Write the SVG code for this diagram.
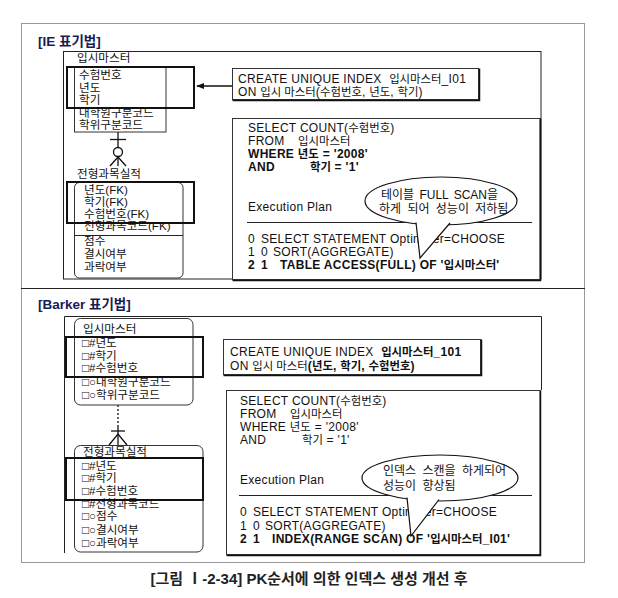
<svg xmlns="http://www.w3.org/2000/svg" width="618" height="598" viewBox="0 0 618 598">
<defs>
<style>
text{font-family:"Liberation Sans","Noto Sans CJK KR",sans-serif;font-size:12px;fill:#111}
.sq{letter-spacing:0.3px}
.k{font-size:11.4px;letter-spacing:0}
.e{font-size:11.6px}
.t{font-size:13.5px;font-weight:bold;fill:#1a1a55}
.cap{font-size:15px;font-weight:bold;fill:#222}
.bt{font-size:12px}
.b{font-weight:bold}
.thin{fill:none;stroke:#222;stroke-width:1}
.ent{fill:#fff;stroke:#333;stroke-width:1}
.pk{fill:none;stroke:#111;stroke-width:2}
.box{fill:#fff;stroke:#333;stroke-width:1}
.sh{fill:none;stroke:#111;stroke-width:1.5}
.bub{fill:#fff;stroke:#111;stroke-width:1.2}
.rel{fill:none;stroke:#111;stroke-width:1.3}
</style>
<marker id="ah" viewBox="0 0 10 10" refX="9" refY="5" markerWidth="6" markerHeight="6" orient="auto"><path d="M0,1 L10,5 L0,9 z" fill="#111"/></marker>
</defs>
<rect width="618" height="598" fill="#fff"/>
<g id="frame">
<rect x="21.5" y="23.5" width="563" height="539" fill="none" stroke="#999" stroke-width="1"/>
<line x1="21" y1="288.5" x2="585" y2="288.5" stroke="#222" stroke-width="1.2"/>
</g>

<!-- ===== IE panel ===== -->
<g id="ie-panel">
<text class="t" x="38" y="46">[IE 표기법]</text>
<rect class="thin" x="63.5" y="51.5" width="477.5" height="227.5"/>
</g>

<g id="connectors">
<line class="rel" x1="232" y1="86" x2="197" y2="86" marker-end="url(#ah)"/>
<line class="rel" x1="118" y1="132" x2="118" y2="166"/>
<line class="rel" x1="110" y1="139.5" x2="126" y2="139.5"/>
<circle cx="118" cy="152" r="4.5" fill="#fff" stroke="#111" stroke-width="1.3"/>
<path class="rel" d="M110,166 L118,157 L126,166"/>
<line x1="118" y1="405" x2="118" y2="426" stroke="#111" stroke-width="1.3" stroke-dasharray="2,2"/>
<line class="rel" x1="118" y1="426" x2="118" y2="445"/>
<line class="rel" x1="111" y1="431" x2="125" y2="431"/>
<path class="rel" d="M109,445 L118,434 L127,445"/>
</g>

<g id="ie-entity1">
<text class="e" x="77" y="62">입시마스터</text>
<rect class="ent" x="74.5" y="67.5" width="91.5" height="64.5"/>
<text class="e" x="79" y="79">수험번호</text>
<text class="e" x="79" y="92">년도</text>
<text class="e" x="79" y="104">학기</text>
<text class="e" x="79" y="117">대학원구분코드</text>
<text class="e" x="79" y="129">학위구분코드</text>
<rect class="pk" x="67" y="67" width="127" height="41"/>
</g>

<g id="ie-entity2">
<text class="e" x="77" y="178">전형과목실적</text>
<rect class="ent" x="74.5" y="182.5" width="108.5" height="95.5" rx="5"/>
<line class="thin" x1="74.5" y1="235.5" x2="183" y2="235.5"/>
<text class="e" x="84" y="194">년도(FK)</text>
<text class="e" x="84" y="206">학기(FK)</text>
<text class="e" x="84" y="218">수험번호(FK)</text>
<text class="e" x="84" y="230">전형과목코드(FK)</text>
<text class="e" x="84" y="245">점수</text>
<text class="e" x="84" y="258">결시여부</text>
<text class="e" x="84" y="271">과락여부</text>
<rect class="pk" x="67" y="182" width="127" height="41"/>
</g>

<g id="ie-index">
<rect class="box" x="232.5" y="68.5" width="246" height="31"/>
<path class="sh" d="M479.5,68.5 V100.5 H232.5"/>
<text class="sq" x="238" y="82.5">CREATE UNIQUE INDEX <tspan class="k" dx="4">입시마스터</tspan>_I01</text>
<text class="sq" x="238" y="95.5">ON <tspan class="k">입시 마스터</tspan>(<tspan class="k">수험번호</tspan>, <tspan class="k">년도</tspan>, <tspan class="k">학기</tspan>)</text>
</g>

<g id="ie-sql">
<rect class="box" x="232.5" y="118.5" width="307.5" height="161"/>
<path class="sh" d="M540.5,118.5 V280.5 H232.5"/>
<text class="sq" x="248" y="132">SELECT COUNT(<tspan class="k">수험번호</tspan>)</text>
<text class="sq" x="248" y="145">FROM<tspan class="k" x="298">입시마스터</tspan></text>
<text class="sq b" x="248" y="158">WHERE <tspan class="k">년도</tspan><tspan dx="4">= '2008'</tspan></text>
<text class="sq b" x="248" y="171">AND<tspan class="k" x="310">학기</tspan> = '1'</text>
<text class="sq" x="248" y="211">Execution Plan</text>
<line class="thin" x1="247" y1="222.5" x2="532" y2="222.5"/>
<text class="sq" x="248" y="243">0<tspan x="261">SELECT STATEMENT Optimizer=CHOOSE</tspan></text>
<text class="sq" x="248" y="256">1<tspan x="261">0</tspan><tspan x="273">SORT(AGGREGATE)</tspan></text>
<text class="sq b" x="248" y="269">2<tspan x="261">1</tspan><tspan x="280">TABLE ACCESS(FULL) OF '<tspan class="k">입시마스터</tspan>'</tspan></text>
</g>

<g id="ie-callout">
<ellipse class="bub" cx="441" cy="201" rx="76" ry="24"/>
<path d="M416,222.5 L420,258 L450,223" fill="#fff" stroke="#111" stroke-width="1.2"/>
<text class="bt" x="381" y="199" word-spacing="2">테이블 FULL SCAN을</text>
<text class="bt" x="379" y="213" word-spacing="3">하게 되어 성능이 저하됨</text>
</g>

<!-- ===== Barker panel ===== -->
<g id="barker-panel">
<text class="t" x="38" y="309">[Barker 표기법]</text>
<path class="thin" d="M64.5,553 V316.5 H541.5 V390"/>
</g>

<g id="barker-entity1">
<rect class="ent" x="74.5" y="318.5" width="118.5" height="86.5" rx="6"/>
<text class="e" x="83" y="333">입시마스터</text>
<text class="e" x="82" y="347">□#년도</text>
<text class="e" x="82" y="360">□#학기</text>
<text class="e" x="82" y="372">□#수험번호</text>
<text class="e" x="82" y="386">□○대학원구분코드</text>
<text class="e" x="82" y="399">□○학위구분코드</text>
<rect class="pk" x="66" y="337" width="137" height="40"/>
</g>

<g id="barker-entity2">
<rect class="ent" x="74.5" y="445.5" width="128.5" height="106.5" rx="6"/>
<text class="e" x="83" y="456">전형과목실적</text>
<text class="e" x="82" y="470">□#년도</text>
<text class="e" x="82" y="482">□#학기</text>
<text class="e" x="82" y="495">□#수험번호</text>
<text class="e" x="82" y="508">□#전형과목코드</text>
<text class="e" x="82" y="520">□○점수</text>
<text class="e" x="82" y="534">□○결시여부</text>
<text class="e" x="82" y="547">□○과락여부</text>
<rect class="pk" x="66" y="458" width="137" height="42"/>
</g>

<g id="barker-index">
<rect class="box" x="223.5" y="339.5" width="257" height="35"/>
<path class="sh" d="M481.5,339.5 V375.5 H223.5"/>
<text class="sq" x="230" y="355.5">CREATE UNIQUE INDEX <tspan class="b" dx="4"><tspan class="k">입시마스터</tspan>_101</tspan></text>
<text class="sq" x="230" y="369.5">ON <tspan class="k">입시 마스터</tspan><tspan class="b">(<tspan class="k">년도</tspan>, <tspan class="k">학기</tspan>, <tspan class="k">수험번호</tspan>)</tspan></text>
</g>

<g id="barker-sql">
<rect class="box" x="226.5" y="390.5" width="313.5" height="164"/>
<path class="sh" d="M540.5,390.5 V555.5 H226.5"/>
<text class="sq" x="240" y="405">SELECT COUNT(<tspan class="k">수험번호</tspan>)</text>
<text class="sq" x="240" y="418">FROM<tspan class="k" x="290">입시마스터</tspan></text>
<text class="sq" x="240" y="431">WHERE <tspan class="k">년도</tspan><tspan dx="4">= '2008'</tspan></text>
<text class="sq" x="240" y="444">AND<tspan class="k" x="302">학기</tspan> = '1'</text>
<text class="sq" x="240" y="484">Execution Plan</text>
<line class="thin" x1="239" y1="495.5" x2="532" y2="495.5"/>
<text class="sq" x="240" y="516">0<tspan x="253">SELECT STATEMENT Optimizer=CHOOSE</tspan></text>
<text class="sq" x="240" y="529.5">1<tspan x="253">0</tspan><tspan x="265">SORT(AGGREGATE)</tspan></text>
<text class="sq b" x="240" y="543">2<tspan x="253">1</tspan><tspan x="272">INDEX(RANGE SCAN) OF '<tspan class="k">입시마스터</tspan>_I01'</tspan></text>
</g>

<g id="barker-callout">
<ellipse class="bub" cx="440" cy="478" rx="78" ry="23"/>
<path d="M407,497.5 L411,536 L439,499.5" fill="#fff" stroke="#111" stroke-width="1.2"/>
<text class="bt" x="383" y="475" word-spacing="3">인덱스 스캔을 하게되어</text>
<text class="bt" x="383" y="490" word-spacing="3">성능이 향상됨</text>
</g>

<g id="caption">
<text class="cap" x="309" y="584" text-anchor="middle">[그림 Ⅰ-2-34] PK순서에 의한 인덱스 생성 개선 후</text>
</g>
</svg>
